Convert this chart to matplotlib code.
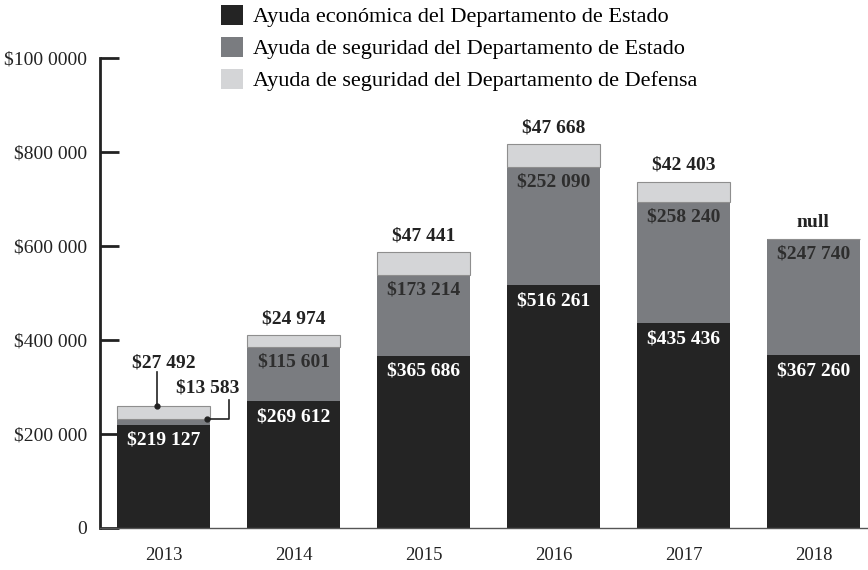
import numpy as np
import matplotlib.pyplot as plt
from matplotlib.patches import Patch

plt.rcParams['font.family'] = ['Liberation Serif', 'DejaVu Serif']

years = ['2013', '2014', '2015', '2016', '2017', '2018']
economica = [219127, 269612, 365686, 516261, 435436, 367260]
seguridad_estado = [13583, 115601, 173214, 252090, 258240, 247740]
seguridad_defensa = [27492, 24974, 47441, 47668, 42403, None]

series_names = ['Ayuda económica del Departamento de Estado',
                'Ayuda de seguridad del Departamento de Estado',
                'Ayuda de seguridad del Departamento de Defensa']
colors = ['#242424', '#7a7c80', '#d4d5d7']

yticks = [0, 200000, 400000, 600000, 800000, 1000000]
ytick_labels = ['0', '$200 000', '$400 000', '$600 000', '$800 000', '$100 0000']


def fmt(v):
    if v is None:
        return 'null'
    return '$' + format(v, ',').replace(',', ' ')


x = np.arange(len(years))
eco = np.array(economica, dtype=float)
sec = np.array(seguridad_estado, dtype=float)
dfn = np.array([v if v is not None else 0 for v in seguridad_defensa], dtype=float)

fig = plt.figure(figsize=(8.68, 5.70), dpi=100)
ax = fig.add_axes([0.1152, 0.0737, 0.8848, 0.8245])

w = 0.72
ax.bar(x, eco, w, color=colors[0], zorder=2)
ax.bar(x, sec, w, bottom=eco, color=colors[1], zorder=2)
ax.bar(x, dfn, w, bottom=eco + sec, color=colors[2], edgecolor='#8e8e8e',
       linewidth=0.8, zorder=2)

tot = eco + sec + dfn
lab = dict(fontsize=14, fontweight='bold', ha='center', va='center')
for i in range(len(years)):
    ax.annotate(fmt(economica[i]), (x[i], eco[i]), xytext=(0, -11),
                textcoords='offset points', color='white', **lab)
    if i == 0:
        continue
    ax.annotate(fmt(seguridad_estado[i]), (x[i], eco[i] + sec[i]), xytext=(0, -11),
                textcoords='offset points', color='#2e2e2e', **lab)
    ax.annotate(fmt(seguridad_defensa[i]), (x[i], tot[i]), xytext=(0, 12),
                textcoords='offset points', color='#222222', **lab)

# 2013 callouts
ax.plot([-0.054, -0.054], [tot[0], 332000], color='#222222', lw=1.2, zorder=3)
ax.plot([-0.054], [tot[0]], 'o', color='#222222', ms=3.5, zorder=3)
ax.text(0.0, 351000, fmt(seguridad_defensa[0]), color='#222222', **lab)
ax.plot([0.33, 0.5, 0.5], [eco[0] + sec[0], eco[0] + sec[0], 272000],
        color='#222222', lw=1.2, zorder=3)
ax.plot([0.33], [eco[0] + sec[0]], 'o', color='#222222', ms=3.5, zorder=3)
ax.text(0.34, 298000, fmt(seguridad_estado[0]), color='#222222', **lab)

ax.set_xlim(-0.49, 5.42)
ax.set_ylim(0, 1000000)
ax.set_xticks(x)
ax.set_xticklabels(years, fontsize=13.5, color='#222222')
ax.set_yticks(yticks)
ax.set_yticklabels(ytick_labels, fontsize=14, color='#222222')
ax.tick_params(axis='y', direction='in', length=14, width=2, color='#222222', pad=9)
ax.tick_params(axis='x', length=0, pad=14)
for s in ['top', 'right']:
    ax.spines[s].set_visible(False)
ax.spines['left'].set_linewidth(2)
ax.spines['left'].set_color('#222222')
ax.spines['bottom'].set_linewidth(1)
ax.spines['bottom'].set_color('#555555')

handles = [Patch(facecolor=c, edgecolor='none') for c in colors]
fig.legend(handles, series_names, loc='upper left', bbox_to_anchor=(0.244, 1.007),
           frameon=False, fontsize=16, handlelength=1.0, handleheight=1.0,
           handletextpad=0.45, labelspacing=0.42, borderaxespad=0)

fig.savefig('out.png', dpi=100)
